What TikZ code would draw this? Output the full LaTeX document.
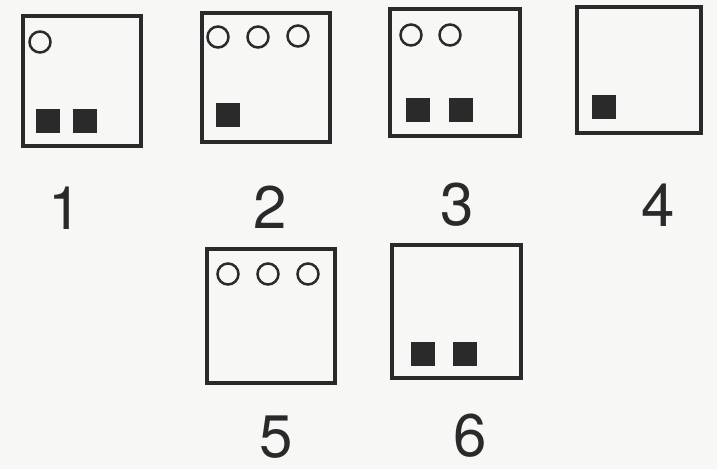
\documentclass[tikz,border=0pt]{standalone}
\usepackage{fontspec}
\setmainfont{TeX Gyre Heros}
\usepackage{xcolor}
\usetikzlibrary{positioning}
\definecolor{ink}{HTML}{2A2A2A}
\definecolor{paper}{HTML}{F7F7F5}

\begin{document}
\begin{tikzpicture}[
  x=1pt, y=-1pt,
  frame/.style={draw=ink, line width=4pt, inner sep=0pt},
  ring/.style={circle, draw=ink, line width=2.5pt, minimum size=21pt, inner sep=0pt},
  chip/.style={fill=ink, minimum size=24pt, inner sep=0pt},
  digit/.style={text=ink, inner sep=0pt, font=\fontsize{60}{60}\selectfont}
]
\fill[paper] (0,0) rectangle (717,469);
\useasboundingbox (0,0) rectangle (717,469);

% top row
\node[frame, minimum width=118pt, minimum height=130pt] (box1) at (81.5,80.5) {};
\node[ring] (c11) at (40,42) {};
\node[chip] (s11) at (48,120.5) {};
\node[chip] (s12) at (85,120.5) {};

\node[frame, minimum width=128pt, minimum height=129pt] (box2) at (265.5,77) {};
\node[ring] (c21) at (218,37) {};
\node[ring] (c22) at (258,37) {};
\node[ring] (c23) at (298,36) {};
\node[chip] (s21) at (227.5,115) {};

\node[frame, minimum width=130pt, minimum height=127pt] (box3) at (454.5,72.5) {};
\node[ring] (c31) at (411,35) {};
\node[ring] (c32) at (450,35) {};
\node[chip] (s31) at (417.5,109.5) {};
\node[chip] (s32) at (460.5,109.5) {};

\node[frame, minimum width=124pt, minimum height=126pt] (box4) at (639,70) {};
\node[chip] (s41) at (604,106.5) {};

% bottom row
\node[frame, minimum width=128pt, minimum height=134pt] (box5) at (271,316) {};
\node[ring] (c51) at (228,274) {};
\node[ring] (c52) at (268,274) {};
\node[ring] (c53) at (308,274) {};

\node[frame, minimum width=129pt, minimum height=133pt] (box6) at (456.5,311.5) {};
\node[chip] (s61) at (423,353.5) {};
\node[chip] (s62) at (464.5,353.5) {};

% numbers
\node[digit] (n1) at (65,208) {1};
\node[digit] (n2) at (270,207) {2};
\node[digit] (n3) at (457,205) {3};
\node[digit] (n4) at (658,205) {4};
\node[digit] (n5) at (276,437) {5};
\node[digit] (n6) at (470,436) {6};
\end{tikzpicture}
\end{document}
